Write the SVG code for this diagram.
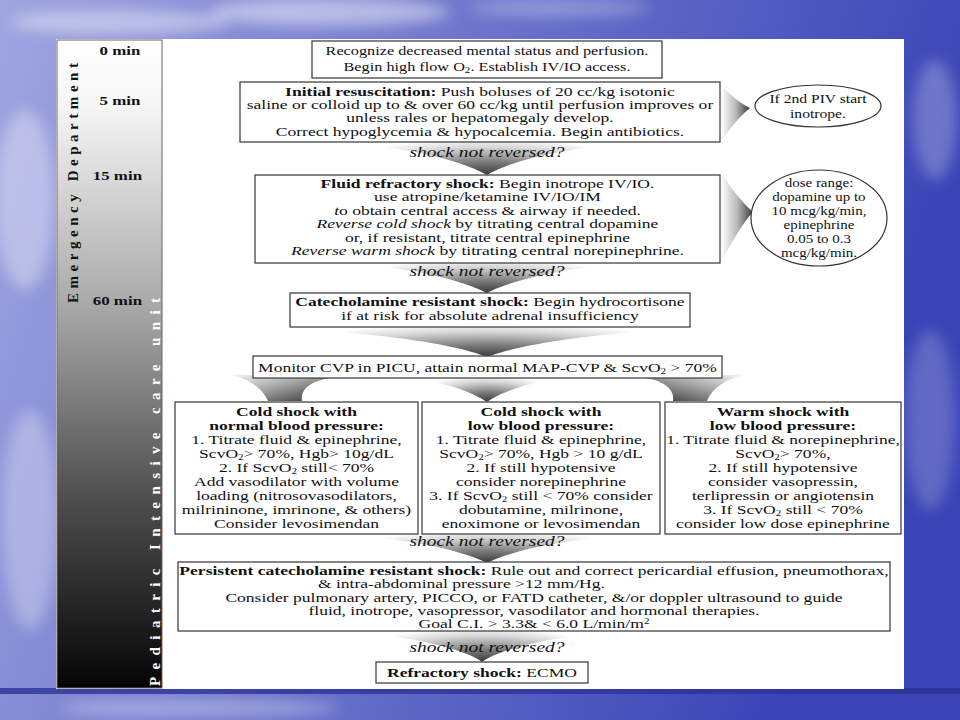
<svg xmlns="http://www.w3.org/2000/svg" width="960" height="720" viewBox="0 0 960 720">
<defs>
<style>
.t{font-family:"Liberation Serif","Times New Roman",serif;font-size:13.5px;fill:#111;text-anchor:middle}
.s{font-size:12.5px}
.b{font-weight:bold}
.i{font-style:italic}
.q{font-family:"Liberation Serif","Times New Roman",serif;font-size:15px;font-style:italic;fill:#111;text-anchor:middle}
.box{fill:#fff;stroke:#444;stroke-width:1.3}
.ov{fill:#fff;stroke:#333;stroke-width:1.2}
.tm{font-family:"Liberation Serif","Times New Roman",serif;font-size:13px;font-weight:bold;fill:#111;text-anchor:middle}
.vt{font-family:"Liberation Serif","Times New Roman",serif;font-size:15px;font-weight:bold}
.sub{font-size:8.5px}
</style>
<linearGradient id="sky" x1="0" y1="0" x2="1" y2="0.25">
<stop offset="0" stop-color="#a0a6e0"/>
<stop offset="0.45" stop-color="#7078cc"/>
<stop offset="1" stop-color="#3a44b6"/>
</linearGradient>
<filter id="blur" x="-50%" y="-50%" width="200%" height="200%"><feGaussianBlur stdDeviation="7"/></filter>
<linearGradient id="bar" x1="0" y1="0" x2="0" y2="1">
<stop offset="0" stop-color="#ffffff"/>
<stop offset="0.1" stop-color="#f6f6f6"/>
<stop offset="0.4" stop-color="#ababab"/>
<stop offset="0.7" stop-color="#505050"/>
<stop offset="1" stop-color="#050505"/>
</linearGradient>
<radialGradient id="wd" cx="0.5" cy="1" r="0.8" fx="0.5" fy="1" gradientTransform="translate(0.5 1) scale(0.6 1.4) translate(-0.5 -1)">
<stop offset="0" stop-color="#3a3a3a"/>
<stop offset="0.35" stop-color="#7a7a7a"/>
<stop offset="0.75" stop-color="#d6d6d6"/>
<stop offset="1" stop-color="#ffffff"/>
</radialGradient>
<linearGradient id="wr" x1="0" y1="0" x2="1" y2="0">
<stop offset="0" stop-color="#ffffff"/>
<stop offset="0.5" stop-color="#bbbbbb"/>
<stop offset="1" stop-color="#383838"/>
</linearGradient>
<linearGradient id="wl" x1="0" y1="0" x2="1" y2="1">
<stop offset="0" stop-color="#ffffff"/>
<stop offset="0.5" stop-color="#a0a0a0"/>
<stop offset="1" stop-color="#303030"/>
</linearGradient>
<linearGradient id="wrr" x1="1" y1="0" x2="0" y2="1">
<stop offset="0" stop-color="#ffffff"/>
<stop offset="0.5" stop-color="#a0a0a0"/>
<stop offset="1" stop-color="#303030"/>
</linearGradient>
</defs>

<g id="background">
<rect x="0" y="0" width="960" height="720" fill="url(#sky)"/>
<g filter="url(#blur)" fill="#ffffff">
<ellipse cx="330" cy="12" rx="120" ry="14" opacity="0.45"/>
<ellipse cx="120" cy="22" rx="110" ry="12" opacity="0.4"/>
<ellipse cx="560" cy="8" rx="90" ry="8" opacity="0.3"/>
<ellipse cx="25" cy="200" rx="30" ry="90" opacity="0.35"/>
<ellipse cx="30" cy="520" rx="28" ry="110" opacity="0.3"/>
<ellipse cx="935" cy="120" rx="22" ry="60" opacity="0.25"/>
<ellipse cx="930" cy="420" rx="25" ry="90" opacity="0.2"/>
<ellipse cx="200" cy="708" rx="140" ry="10" opacity="0.3"/>
</g>
<rect x="0" y="688" width="960" height="6" fill="#2c3399" opacity="0.8"/>
</g>

<rect id="panel" x="56" y="39" width="848" height="650" fill="#ffffff"/>

<g id="timeline">
<rect x="57" y="40" width="105" height="648" fill="url(#bar)" stroke="#666" stroke-width="1"/>
<g transform="matrix(1.3 0 0 1 -36 0)">
<text class="tm" x="120" y="55">0 min</text>
<text class="tm" x="120" y="105">5 min</text>
<text class="tm" x="118" y="180">15 min</text>
<text class="tm" x="118" y="305">60 min</text>
</g>
<text class="vt" fill="#111" transform="translate(78 303) rotate(-90)" textLength="240" lengthAdjust="spacing">Emergency Department</text>
<text class="vt" fill="#ffffff" transform="translate(160 686) rotate(-90)" textLength="388" lengthAdjust="spacing">Pediatric Intensive care unit</text>
</g>

<g id="connectors">
<path d="M320 142 C420 146 470 165 487 175 C504 165 554 146 655 142 Z" fill="url(#wd)"/>
<path d="M320 262 C420 266 470 284 487 293 C504 284 554 266 655 262 Z" fill="url(#wd)"/>
<path d="M245 327 C400 332 465 348 487 357 C509 348 574 332 730 327 Z" fill="url(#wd)"/>
<path d="M225 374 C250 378 262 388 268 401 L302 401 C300 390 310 381 330 378 Z" fill="url(#wl)"/>
<path d="M405 378 C450 382 475 394 487 402 C499 394 524 382 570 378 Z" fill="url(#wd)"/>
<path d="M750 374 C725 378 713 388 707 401 L673 401 C675 390 665 381 645 378 Z" fill="url(#wrr)"/>
<path d="M320 533 C420 538 470 554 487 563 C504 554 554 538 655 533 Z" fill="url(#wd)"/>
<path d="M340 631 C420 636 470 652 482 662 C494 652 544 636 625 631 Z" fill="url(#wd)"/>
<path d="M721 85 C730 95 740 103 750 108 C740 116 730 128 721 142 Z" fill="url(#wr)"/>
<path d="M721 172 C732 190 742 202 753 212 C742 224 732 242 721 262 Z" fill="url(#wr)"/>
<g transform="matrix(1.3 0 0 1 -146.1 0)">
<text class="q" x="487" y="157">shock not reversed?</text>
<text class="q" x="487" y="276">shock not reversed?</text>
<text class="q" x="487" y="546">shock not reversed?</text>
<text class="q" x="487" y="652">shock not reversed?</text>
</g>
</g>

<g id="n1">
<rect class="box" x="312" y="41" width="350" height="37"/>
<g transform="matrix(1.3 0 0 1 -146.1 0)">
<text class="t s" x="487" y="55">Recognize decreased mental status and perfusion.</text>
<text class="t s" x="487" y="71">Begin high flow O<tspan class="sub" dy="2">2</tspan><tspan dy="-2">.  Establish IV/IO access.</tspan></text>
</g>
</g>

<g id="n2">
<rect class="box" x="240" y="82" width="480" height="60"/>
<g transform="matrix(1.3 0 0 1 -144 0)">
<text class="t" x="480" y="96"><tspan class="b">Initial resuscitation:</tspan> Push boluses of 20 cc/kg isotonic</text>
<text class="t" x="480" y="109">saline or colloid up to &amp; over 60 cc/kg until perfusion improves or</text>
<text class="t" x="480" y="122">unless rales or hepatomegaly develop.</text>
<text class="t" x="480" y="136">Correct hypoglycemia &amp; hypocalcemia. Begin antibiotics.</text>
</g>
</g>

<g id="o1">
<ellipse class="ov" cx="818" cy="106" rx="63" ry="21"/>
<g transform="matrix(1.25 0 0 1 -204.5 0)">
<text class="t s" x="818" y="103">If 2nd PIV start</text>
<text class="t s" x="818" y="118">inotrope.</text>
</g>
</g>

<g id="n3">
<rect class="box" x="255" y="175" width="465" height="88"/>
<g transform="matrix(1.3 0 0 1 -146.25 0)">
<text class="t" x="487.5" y="188"><tspan class="b">Fluid refractory shock:</tspan> Begin inotrope IV/IO.</text>
<text class="t" x="487.5" y="201">use atropine/ketamine IV/IO/IM</text>
<text class="t" x="487.5" y="215"><tspan class="i">t</tspan>o obtain central access &amp; airway if needed.</text>
<text class="t" x="487.5" y="228"><tspan class="i">Reverse cold shock</tspan> by titrating central dopamine</text>
<text class="t" x="487.5" y="242">or, if resistant, titrate central epinephrine</text>
<text class="t" x="487.5" y="255"><tspan class="i">Reverse warm shock</tspan> by titrating central  norepinephrine.</text>
</g>
</g>

<g id="o2">
<ellipse class="ov" cx="819" cy="218" rx="68" ry="48"/>
<g transform="matrix(1.2 0 0 1 -163.8 0)">
<text class="t s" x="819" y="187">dose range:</text>
<text class="t s" x="819" y="201">dopamine up to</text>
<text class="t s" x="819" y="215">10 mcg/kg/min,</text>
<text class="t s" x="819" y="229">epinephrine</text>
<text class="t s" x="819" y="243">0.05 to 0.3</text>
<text class="t s" x="819" y="257">mcg/kg/min.</text>
</g>
</g>

<g id="n4">
<rect class="box" x="290" y="293" width="400" height="34"/>
<g transform="matrix(1.3 0 0 1 -147 0)">
<text class="t" x="490" y="306"><tspan class="b">Catecholamine resistant shock:</tspan> Begin hydrocortisone</text>
<text class="t" x="490" y="320">if at risk for absolute adrenal insufficiency</text>
</g>
</g>

<g id="n5">
<rect class="box" x="253" y="356" width="469" height="22"/>
<g transform="matrix(1.3 0 0 1 -146.25 0)">
<text class="t" x="487.5" y="372">Monitor CVP in PICU, attain normal MAP-CVP &amp; ScvO<tspan class="sub" dy="2">2</tspan><tspan dy="-2"> &gt; 70%</tspan></text>
</g>
</g>

<g id="n6">
<rect class="box" x="175" y="402" width="243" height="132"/>
<g transform="matrix(1.3 0 0 1 -88.95 0)">
<text class="t b" x="296.5" y="416">Cold shock with</text>
<text class="t b" x="296.5" y="430">normal blood pressure:</text>
<text class="t" x="296.5" y="444">1. Titrate fluid &amp; epinephrine,</text>
<text class="t" x="296.5" y="458">ScvO<tspan class="sub" dy="2">2</tspan><tspan dy="-2">&gt; 70%, Hgb&gt; 10g/dL</tspan></text>
<text class="t" x="296.5" y="472">2. If ScvO<tspan class="sub" dy="2">2</tspan><tspan dy="-2"> still&lt; 70%</tspan></text>
<text class="t" x="296.5" y="486">Add vasodilator with volume</text>
<text class="t" x="296.5" y="500">loading (nitrosovasodilators,</text>
<text class="t" x="296.5" y="514">milrininone, imrinone, &amp; others)</text>
<text class="t" x="296.5" y="528">Consider levosimendan</text>
</g>
</g>

<g id="n7">
<rect class="box" x="422" y="402" width="238" height="132"/>
<g transform="matrix(1.3 0 0 1 -162.3 0)">
<text class="t b" x="541" y="416">Cold shock with</text>
<text class="t b" x="541" y="430">low blood pressure:</text>
<text class="t" x="541" y="444">1. Titrate fluid &amp; epinephrine,</text>
<text class="t" x="541" y="458">ScvO<tspan class="sub" dy="2">2</tspan><tspan dy="-2">&gt; 70%, Hgb &gt; 10 g/dL</tspan></text>
<text class="t" x="541" y="472">2. If still hypotensive</text>
<text class="t" x="541" y="486">consider norepinephrine</text>
<text class="t" x="541" y="500">3.  If ScvO<tspan class="sub" dy="2">2</tspan><tspan dy="-2"> still &lt; 70% consider</tspan></text>
<text class="t" x="541" y="514">dobutamine, milrinone,</text>
<text class="t" x="541" y="528">enoximone or levosimendan</text>
</g>
</g>

<g id="n8">
<rect class="box" x="665" y="402" width="236" height="132"/>
<g transform="matrix(1.3 0 0 1 -234.9 0)">
<text class="t b" x="783" y="416">Warm shock with</text>
<text class="t b" x="783" y="430">low blood pressure:</text>
<text class="t" x="783" y="444">1. Titrate fluid &amp; norepinephrine,</text>
<text class="t" x="783" y="458">ScvO<tspan class="sub" dy="2">2</tspan><tspan dy="-2">&gt; 70%,</tspan></text>
<text class="t" x="783" y="472">2. If still hypotensive</text>
<text class="t" x="783" y="486">consider vasopressin,</text>
<text class="t" x="783" y="500">terlipressin or angiotensin</text>
<text class="t" x="783" y="514">3. If ScvO<tspan class="sub" dy="2">2</tspan><tspan dy="-2"> still &lt; 70%</tspan></text>
<text class="t" x="783" y="528">consider low dose epinephrine</text>
</g>
</g>

<g id="n9">
<rect class="box" x="178" y="562" width="712" height="69"/>
<g transform="matrix(1.3 0 0 1 -160.2 0)">
<text class="t" x="534" y="575"><tspan class="b">Persistent catecholamine resistant shock:</tspan> Rule out and correct pericardial effusion, pneumothorax,</text>
<text class="t" x="367.8" y="588" style="text-anchor:start">&amp; intra-abdominal pressure &gt;12 mm/Hg.</text>
<text class="t" x="534" y="602">Consider pulmonary artery, PICCO, or FATD catheter, &amp;/or doppler ultrasound to guide</text>
<text class="t" x="534" y="615">fluid, inotrope, vasopressor, vasodilator and hormonal therapies.</text>
<text class="t" x="534" y="628">Goal C.I. &gt; 3.3&amp; &lt; 6.0 L/min/m<tspan class="sub" dy="-4">2</tspan></text>
</g>
</g>

<g id="n10">
<rect class="box" x="376" y="662" width="212" height="21"/>
<g transform="matrix(1.3 0 0 1 -144.6 0)">
<text class="t" x="482" y="677"><tspan class="b">Refractory shock:</tspan> ECMO</text>
</g>
</g>
</svg>
